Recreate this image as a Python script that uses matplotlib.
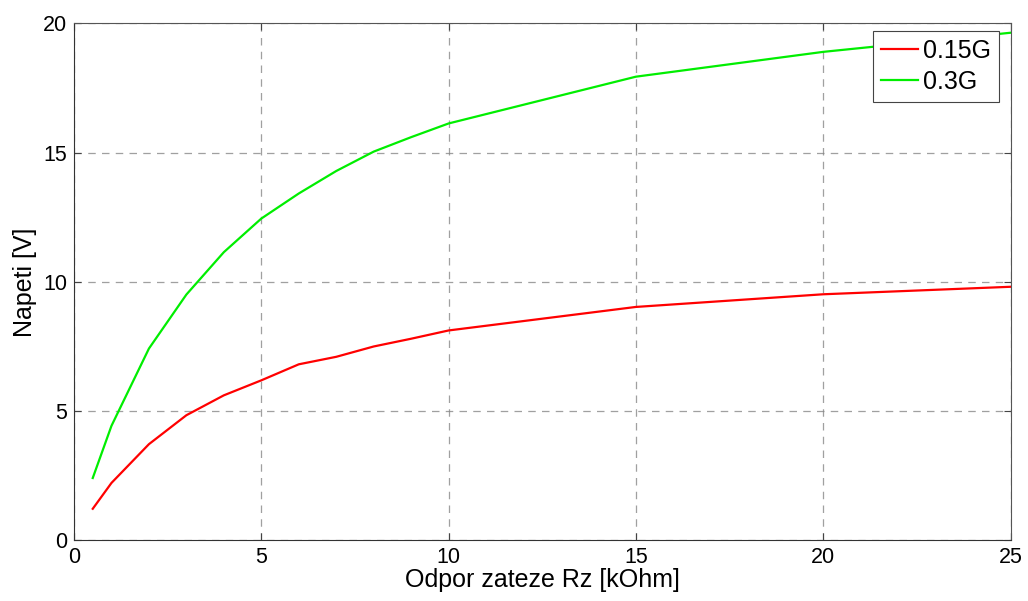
import matplotlib.pyplot as plt

plt.rcParams['font.family'] = ['Liberation Sans', 'DejaVu Sans']

# load resistance [kOhm] and measured voltage [V]
rz = [0.5, 1, 2, 3, 4, 5, 6, 7, 8, 9, 10, 15, 20, 25]
u_015 = [1.22, 2.22, 3.72, 4.84, 5.61, 6.19, 6.81, 7.1, 7.5, 7.8, 8.12, 9.03, 9.52, 9.81]
u_03 = [2.41, 4.43, 7.42, 9.51, 11.15, 12.45, 13.42, 14.29, 15.04, 15.6, 16.13, 17.94, 18.9, 19.64]

fig = plt.figure(figsize=(10.28, 6.01), dpi=100)
ax = fig.add_axes([0.072, 0.101, 0.911, 0.860])

ax.plot(rz, u_015, color='#ff0000', linewidth=1.6, label='0.15G')
ax.plot(rz, u_03, color='#00ee00', linewidth=1.6, label='0.3G')

ax.set_xlim(0, 25)
ax.set_ylim(0, 20)
ax.set_xticks([0, 5, 10, 15, 20, 25])
ax.set_yticks([0, 5, 10, 15, 20])

ax.grid(True, color='#888888', linestyle=(0, (6, 5)), linewidth=0.9, alpha=0.8)
ax.tick_params(direction='in', length=5, width=0.8, labelsize=15.5,
               top=True, right=True, color='#444444', pad=5)
for side in ['left', 'bottom']:
    ax.spines[side].set_color('#333333')
for side in ['top', 'right']:
    ax.spines[side].set_color('#555555')

ax.set_xlabel('Odpor zateze Rz [kOhm]', fontsize=18, labelpad=0)
ax.set_ylabel('Napeti [V]', fontsize=18, labelpad=4)

leg = ax.legend(loc='upper right', bbox_to_anchor=(0.9875, 0.985), fontsize=18,
                fancybox=False, framealpha=1, edgecolor='#444444', borderaxespad=0,
                handlelength=1.5, handletextpad=0.2, borderpad=0.3, labelspacing=0.3)
leg.get_frame().set_linewidth(0.8)

fig.savefig('out.png', dpi=100)
